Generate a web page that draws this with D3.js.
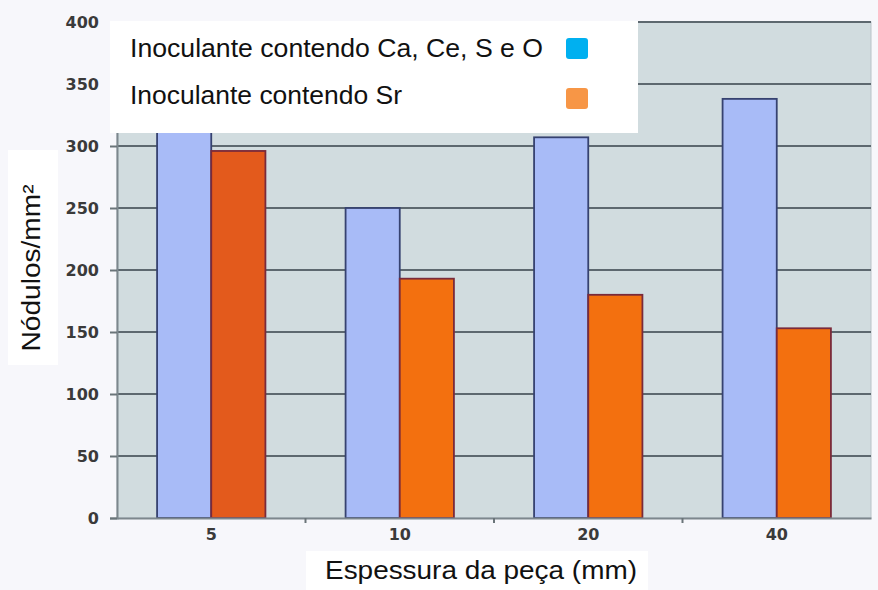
<!DOCTYPE html>
<html>
<head>
<meta charset="utf-8">
<script src="https://cdn.jsdelivr.net/npm/d3@7"></script>
<style>
  html, body { margin: 0; padding: 0; background: #f7f7fb; }
  svg { display: block; }
</style>
</head>
<body>
<svg id="chart" width="878" height="590"></svg>
<script>
// Espessura da peça (mm)
const categories = ["5", "10", "20", "40"];
// Nódulos/mm² per inoculant
const seriesNames = ["Inoculante contendo Ca, Ce, S e O", "Inoculante contendo Sr"];
const caCeSO = [355, 250, 307, 338];
const sr = [296, 193, 180, 153];
const yTicks = [0, 50, 100, 150, 200, 250, 300, 350, 400];

const svg = d3.select("#chart");
const W = 878, H = 590;
const m = { left: 117, top: 22, right: 7, bottom: 72 };
const pw = W - m.left - m.right, ph = H - m.top - m.bottom;
const sans = "Liberation Sans, Arial, sans-serif";

const x = d3.scaleBand().domain(categories).range([m.left, m.left + pw]).paddingInner(0).paddingOuter(0);
const xs = d3.scaleBand().domain([0, 1]).range([0, x.bandwidth()]).paddingInner(0).paddingOuter(0.74);
const y = d3.scaleLinear().domain([0, 400]).range([m.top + ph, m.top]);

// plot area
svg.append("rect").attr("x", m.left).attr("y", m.top).attr("width", pw).attr("height", ph)
  .attr("fill", "#d1dcdf").attr("stroke", "#b9c3c8").attr("stroke-width", 1);

// horizontal grid
svg.append("g").selectAll("line").data(yTicks.filter(d => d > 0)).join("line")
  .attr("x1", m.left).attr("x2", m.left + pw)
  .attr("y1", d => y(d)).attr("y2", d => y(d))
  .attr("stroke", "#5d686f").attr("stroke-width", 2);

// bars
const fills = [["#a8bbf7", "#a8bbf7", "#a8bbf7", "#a8bbf7"], ["#e35a1c", "#f3700f", "#f3700f", "#f3700f"]];
const strokes = ["#364270", "#7a2a3a"];
const series = [caCeSO, sr];
series.forEach((vals, si) => {
  svg.append("g").selectAll("rect").data(vals).join("rect")
    .attr("x", (d, i) => x(categories[i]) + xs(si))
    .attr("y", d => y(d))
    .attr("width", xs.bandwidth())
    .attr("height", d => y(0) - y(d))
    .attr("fill", (d, i) => fills[si][i])
    .attr("stroke", strokes[si]).attr("stroke-width", 1.8);
});

// axes
const yAxis = d3.axisLeft(y).tickValues(yTicks).tickSize(7).tickPadding(11);
const gy = svg.append("g").attr("transform", `translate(${m.left},0)`).call(yAxis);
gy.select(".domain").attr("stroke", "#7d878d").attr("stroke-width", 2);
gy.selectAll(".tick line").attr("stroke", "#6a7479").attr("stroke-width", 2);
gy.selectAll("text").attr("font-family", "DejaVu Sans, Verdana, sans-serif")
  .attr("font-size", 16).attr("font-weight", "bold").attr("fill", "#3a3a3a");

const xAxis = d3.axisBottom(x).tickSize(0).tickPadding(11);
const gx = svg.append("g").attr("transform", `translate(0,${m.top + ph})`).call(xAxis);
gx.select(".domain").attr("stroke", "#7d878d").attr("stroke-width", 2);
gx.selectAll("text").attr("font-family", "DejaVu Sans, Verdana, sans-serif")
  .attr("font-size", 16).attr("font-weight", "bold").attr("fill", "#3a3a3a");
// small separators between categories
svg.append("g").selectAll("line").data(categories.slice(1)).join("line")
  .attr("x1", d => x(d)).attr("x2", d => x(d))
  .attr("y1", m.top + ph).attr("y2", m.top + ph + 5)
  .attr("stroke", "#6a7479").attr("stroke-width", 2);

// legend
const lg = svg.append("g");
lg.append("rect").attr("x", 110).attr("y", 21).attr("width", 528).attr("height", 112).attr("fill", "#ffffff");
const swatch = ["#00b0f0", "#f79646"];
const legendLen = [413, 272];
seriesNames.forEach((name, i) => {
  lg.append("text").attr("x", 130).attr("y", 57 + i * 47)
    .attr("font-family", sans).attr("font-size", 25)
    .attr("textLength", legendLen[i]).attr("lengthAdjust", "spacingAndGlyphs")
    .attr("fill", "#111").text(name);
  lg.append("rect").attr("x", 566).attr("y", 38 + i * 50).attr("width", 22).attr("height", 21)
    .attr("rx", 3).attr("fill", swatch[i]);
});

// y title
svg.append("rect").attr("x", 8).attr("y", 150).attr("width", 50).attr("height", 215).attr("fill", "#ffffff");
svg.append("text").attr("transform", "translate(40,268) rotate(-90)")
  .attr("text-anchor", "middle")
  .attr("font-family", sans).attr("font-size", 26)
  .attr("textLength", 167).attr("lengthAdjust", "spacingAndGlyphs")
  .attr("fill", "#111").text("Nódulos/mm²");

// x title
svg.append("rect").attr("x", 306).attr("y", 551).attr("width", 342).attr("height", 39).attr("fill", "#ffffff");
svg.append("text").attr("x", 481).attr("y", 579).attr("text-anchor", "middle")
  .attr("font-family", sans).attr("font-size", 25)
  .attr("textLength", 312).attr("lengthAdjust", "spacingAndGlyphs")
  .attr("fill", "#111").text("Espessura da peça (mm)");
</script>
</body>
</html>
